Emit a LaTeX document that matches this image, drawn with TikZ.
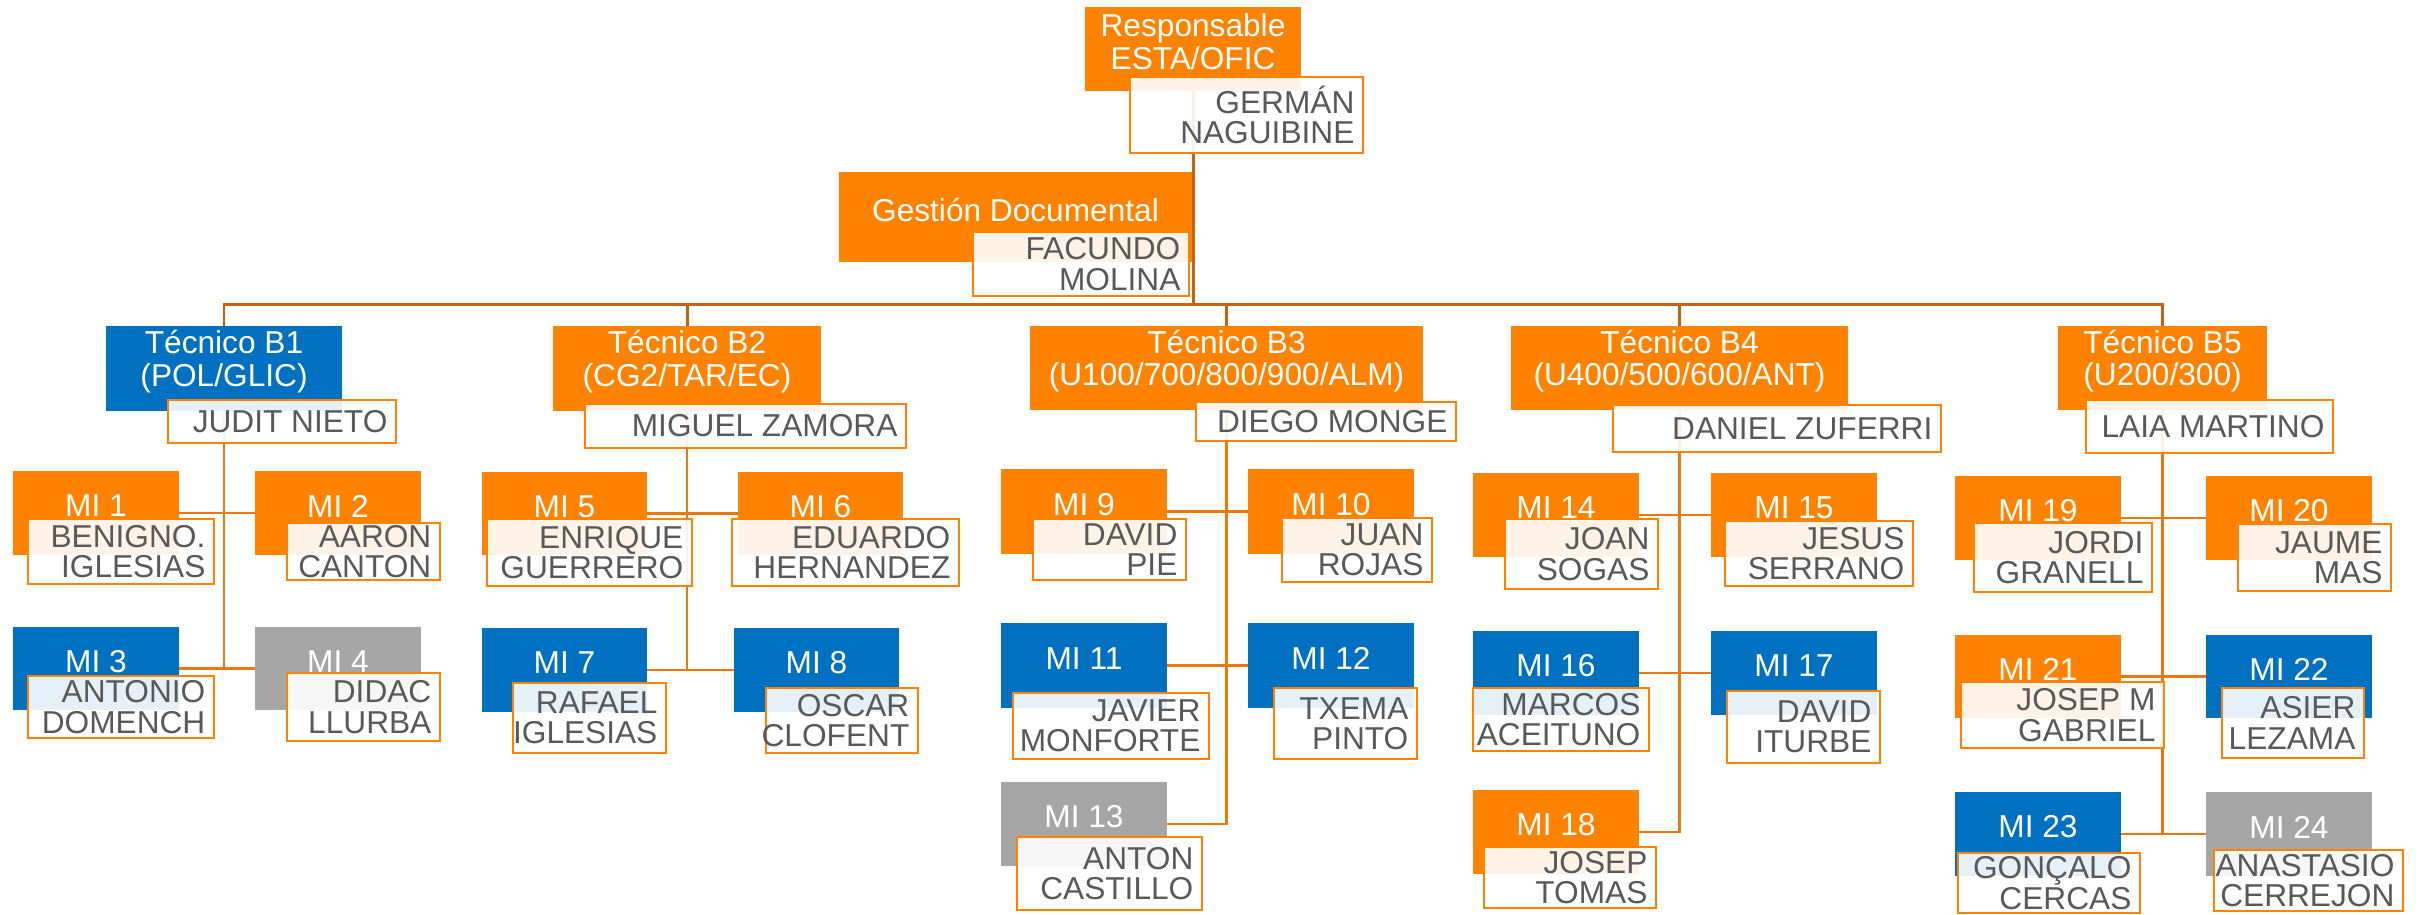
\documentclass[tikz,border=0pt]{standalone}
\usepackage{fontspec}
\setmainfont{Liberation Sans}
\usetikzlibrary{backgrounds}
\definecolor{corange}{RGB}{255,130,0}
\definecolor{cblue}{RGB}{0,112,192}
\definecolor{cgray}{RGB}{166,166,166}
\definecolor{ctext}{RGB}{89,89,89}
\definecolor{cline}{RGB}{235,120,10}
\definecolor{cbus}{RGB}{200,100,15}
\tikzset{
 rb/.style={rectangle, draw=none, inner sep=0pt, outer sep=0pt},
 nb/.style={rectangle, draw=corange, line width=0.65pt, fill=white, fill opacity=0.9, inner sep=0pt, outer sep=0pt},
 roletxt/.style={text=white, font=\fontsize{9}{9.3}\selectfont, align=center, inner sep=0pt},
 nametxt/.style={text=ctext, font=\fontsize{9}{8.6}\selectfont, align=right, inner sep=0pt, anchor=east},
 cl/.style={draw=cline, line width=0.65pt},
 bus/.style={draw=cbus, line width=0.85pt},
}
% role box: name, colour, x1, y1, x2, y2, text
\newcommand\RB[7]{%
 \pgfmathsetmacro\rbw{(#5-(#3))*0.284528}%
 \pgfmathsetmacro\rbh{(#6-(#4))*0.284528}%
 \pgfmathsetmacro\rbx{(#3+#5)/2}%
 \pgfmathsetmacro\rby{(#4+#6)/2}%
 \node[rb, fill=#2, minimum width=\rbw pt, minimum height=\rbh pt] (#1) at (\rbx,\rby) {};
 \node[roletxt] (#1t) at ([yshift=0.07cm]#1.center) {#7};
}
% name box: name, x1, y1, x2, y2, text
\newcommand\NB[6]{%
 \pgfmathsetmacro\rbw{(#4-(#2))*0.284528}%
 \pgfmathsetmacro\rbh{(#5-(#3))*0.284528}%
 \pgfmathsetmacro\rbx{(#2+#4)/2}%
 \pgfmathsetmacro\rby{(#3+#5)/2}%
 \node[nb, minimum width=\rbw pt, minimum height=\rbh pt] (#1) at (\rbx,\rby) {};
 \node[nametxt] (#1t) at ([xshift=-0.08cm]#1.east) {#6};
}
\begin{document}
\begin{tikzpicture}[x=0.01cm, y=-0.01cm]
\useasboundingbox (0,0) rectangle (2425,914);
% ---- role boxes ----
\RB{resp}{corange}{1085}{7}{1301}{91}{Responsable\\ESTA/OFIC}
\RB{gest}{corange}{839}{172}{1192}{262}{Gestión Documental}
\RB{b1}{cblue}{106}{326}{342}{411}{Técnico B1\\(POL/GLIC)}
\RB{b2}{corange}{553}{326}{821}{411}{Técnico B2\\(CG2/TAR/EC)}
\RB{b3}{corange}{1030}{326}{1423}{410}{Técnico B3\\(U100/700/800/900/ALM)}
\RB{b4}{corange}{1511}{326}{1848}{410}{Técnico B4\\(U400/500/600/ANT)}
\RB{b5}{corange}{2058}{326}{2267}{410}{Técnico B5\\(U200/300)}
\RB{m1}{corange}{13}{471}{179}{555}{MI 1}
\RB{m2}{corange}{255}{471}{421}{555}{MI 2}
\RB{m3}{cblue}{13}{627}{179}{710}{MI 3}
\RB{m4}{cgray}{255}{627}{421}{710}{MI 4}
\RB{m5}{corange}{482}{472}{647}{555}{MI 5}
\RB{m6}{corange}{738}{472}{903}{555}{MI 6}
\RB{m7}{cblue}{482}{628}{647}{712}{MI 7}
\RB{m8}{cblue}{734}{628}{899}{712}{MI 8}
\RB{m9}{corange}{1001}{469}{1167}{554}{MI 9}
\RB{m10}{corange}{1248}{469}{1414}{554}{MI 10}
\RB{m11}{cblue}{1001}{623}{1167}{708}{MI 11}
\RB{m12}{cblue}{1248}{623}{1414}{708}{MI 12}
\RB{m13}{cgray}{1001}{782}{1167}{866}{MI 13}
\RB{m14}{corange}{1473}{473}{1639}{557}{MI 14}
\RB{m15}{corange}{1711}{473}{1877}{557}{MI 15}
\RB{m16}{cblue}{1473}{631}{1639}{715}{MI 16}
\RB{m17}{cblue}{1711}{631}{1877}{715}{MI 17}
\RB{m18}{corange}{1473}{790}{1639}{874}{MI 18}
\RB{m19}{corange}{1955}{476}{2121}{560}{MI 19}
\RB{m20}{corange}{2206}{476}{2372}{560}{MI 20}
\RB{m21}{corange}{1955}{635}{2121}{718}{MI 21}
\RB{m22}{cblue}{2206}{635}{2372}{718}{MI 22}
\RB{m23}{cblue}{1955}{792}{2121}{876}{MI 23}
\RB{m24}{cgray}{2206}{792}{2372}{876}{MI 24}
% ---- name boxes ----
\NB{german}{1130}{77}{1363}{153}{GERMÁN\\NAGUIBINE}
\NB{facundo}{973}{232}{1189}{296}{FACUNDO\\MOLINA}
\NB{judit}{168}{400}{396}{443}{JUDIT NIETO}
\NB{miguel}{585}{404}{906}{448}{MIGUEL ZAMORA}
\NB{diego}{1196}{402}{1456}{441}{DIEGO MONGE}
\NB{daniel}{1613}{405}{1941}{452}{DANIEL ZUFERRI}
\NB{laia}{2086}{400}{2333}{453}{LAIA MARTINO}
\NB{n1}{28}{519}{214}{584}{BENIGNO.\\IGLESIAS}
\NB{n2}{287}{523}{440}{580}{AARON\\CANTON}
\NB{n3}{28}{676}{214}{738}{ANTONIO\\DOMENCH}
\NB{n4}{287}{673}{440}{741}{DIDAC\\LLURBA}
\NB{n5}{487}{519}{692}{586}{ENRIQUE\\GUERRERO}
\NB{n6}{732}{519}{959}{586}{EDUARDO\\HERNANDEZ}
\NB{n7}{513}{683}{666}{753}{RAFAEL\\IGLESIAS}
\NB{n8}{766}{688}{918}{753}{OSCAR\\CLOFENT}
\NB{n9}{1033}{519}{1186}{580}{DAVID\\PIE}
\NB{n10}{1282}{518}{1432}{582}{JUAN\\ROJAS}
\NB{n11}{1013}{693}{1209}{759}{JAVIER\\MONFORTE}
\NB{n12}{1274}{688}{1417}{759}{TXEMA\\PINTO}
\NB{n13}{1017}{837}{1202}{910}{ANTON\\CASTILLO}
\NB{n14}{1505}{519}{1658}{589}{JOAN\\SOGAS}
\NB{n15}{1725}{521}{1913}{586}{JESUS\\SERRANO}
\NB{n16}{1473}{688}{1649}{751}{MARCOS\\ACEITUNO}
\NB{n17}{1727}{691}{1880}{763}{DAVID\\ITURBE}
\NB{n18}{1484}{847}{1656}{908}{JOSEP\\TOMAS}
\NB{n19}{1974}{523}{2152}{592}{JORDI\\GRANELL}
\NB{n20}{2238}{524}{2391}{591}{JAUME\\MAS}
\NB{n21}{1961}{682}{2164}{748}{JOSEP M\\GABRIEL}
\NB{n22}{2222}{688}{2364}{758}{ASIER\\LEZAMA}
\NB{n23}{1958}{853}{2140}{913}{GONÇALO\\CERCAS}
\NB{n24}{2214}{850}{2403}{911}{ANASTASIO\\CERREJON}
% ---- connectors ----
\begin{pgfonlayer}{background}
\coordinate (bus) at (1193,304);
\draw[bus] (resp.south) -- (bus);
\draw[bus] (b1.north) |- (bus) -| (b5.north);
\draw[bus] (b2.north) -- (b2.north |- bus);
\draw[bus] (b3.north) -- (b3.north |- bus);
\draw[bus] (b4.north) -- (b4.north |- bus);
% B1
\draw[cl] (b1.south) -- (b1.south |- m3.east);
\draw[cl] (m1.east) -- (m2.west);
\draw[cl] (m3.east) -- (m4.west);
% B2
\draw[cl] (b2.south) -- (b2.south |- m7.east);
\draw[cl] (m5.east) -- (m6.west);
\draw[cl] (m7.east) -- (m8.west);
% B3
\draw[cl] (m9.east) -- (m10.west);
\draw[cl] (m11.east) -- (m12.west);
\draw[cl] (m13.east) -| (b3.south);
% B4
\draw[cl] (m14.east) -- (m15.west);
\draw[cl] (m16.east) -- (m17.west);
\draw[cl] (m18.east) -| (b4.south);
% B5
\draw[cl] (b5.south) -- (b5.south |- m23.east);
\draw[cl] (m19.east) -- (m20.west);
\draw[cl] (m21.east) -- (m22.west);
\draw[cl] (m23.east) -- (m24.west);
\end{pgfonlayer}
\end{tikzpicture}
\end{document}
